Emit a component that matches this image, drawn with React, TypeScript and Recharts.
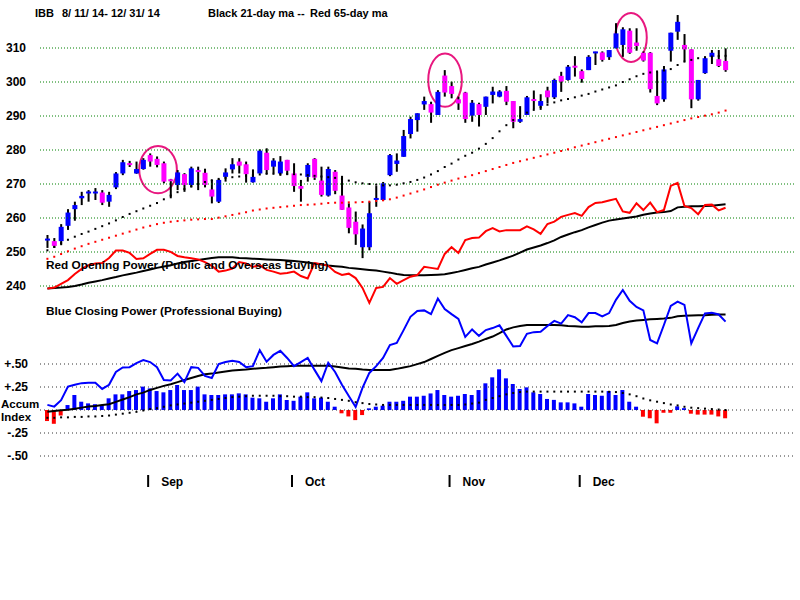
import React from "react";
import { Bar, Cell, ComposedChart, Line, ReferenceArea, ReferenceLine, XAxis, YAxis } from "recharts";

// IBB daily candles, 8/11/14 - 12/31/14 (one entry per trading day)
const open = [
  253.4, 253.2, 253.2, 257.7, 262.6, 265.8, 267.3, 267.3, 267.5, 264.8,
  269.0, 273.1, 276.1, 273.1, 274.4, 278.5, 277.4, 276.1, 271.3, 269.7,
  272.9, 269.7, 274.0, 273.3, 268.4, 264.8, 272.1, 274.3, 276.6, 275.8,
  270.5, 273.1, 279.2, 275.1, 273.1, 277.1, 273.1, 269.4, 272.1, 277.4,
  271.0, 266.6, 273.6, 266.6, 263.1, 258.9, 251.4, 251.4, 265.4, 265.3,
  272.6, 275.9, 278.0, 284.7, 288.8, 293.4, 293.5, 290.3, 301.9, 298.8,
  294.9, 296.9, 290.1, 293.5, 292.7, 296.2, 295.7, 297.4, 294.4, 288.3,
  290.3, 294.9, 293.0, 297.5, 295.5, 301.8, 300.6, 304.7, 303.2, 303.5,
  308.5, 308.7, 307.3, 309.9, 310.9, 315.1, 311.6, 308.6, 308.6, 295.9,
  294.9, 309.2, 314.8, 310.9, 309.6, 294.9, 302.6, 307.4, 306.7, 306.2,
];
const high = [
  255.0, 254.1, 258.2, 262.6, 264.8, 267.7, 268.2, 268.8, 268.2, 267.7,
  273.5, 277.1, 276.8, 276.6, 277.6, 279.0, 278.1, 276.6, 271.5, 274.1,
  273.2, 275.1, 275.1, 274.5, 271.2, 271.5, 274.6, 277.6, 277.6, 276.6,
  274.3, 280.2, 280.5, 277.6, 278.2, 277.1, 276.1, 271.2, 276.1, 277.6,
  275.1, 275.1, 274.1, 272.4, 264.3, 261.9, 258.1, 264.8, 269.4, 270.6,
  278.8, 279.0, 285.9, 289.8, 290.8, 295.7, 294.2, 297.6, 303.5, 300.1,
  295.7, 297.1, 294.7, 293.9, 295.7, 298.6, 297.6, 298.8, 294.4, 292.9,
  295.9, 297.5, 296.4, 298.6, 301.0, 303.0, 305.0, 307.6, 303.7, 307.9,
  308.9, 309.0, 309.4, 317.3, 316.1, 315.8, 315.8, 309.0, 308.8, 303.0,
  304.7, 314.5, 319.7, 314.1, 309.6, 300.6, 307.4, 309.4, 309.4, 309.9,
];
const low = [
  251.2, 251.2, 252.0, 256.5, 259.2, 263.8, 264.8, 265.3, 263.8, 263.3,
  268.5, 272.6, 275.0, 273.0, 274.2, 275.1, 274.9, 270.2, 265.8, 268.2,
  267.7, 269.0, 268.2, 269.0, 264.3, 264.4, 270.7, 273.1, 273.1, 270.4,
  270.4, 273.1, 272.9, 273.1, 272.4, 272.6, 267.7, 264.8, 270.7, 271.2,
  266.3, 266.3, 267.0, 262.4, 255.5, 252.1, 248.2, 250.5, 263.3, 265.0,
  272.3, 273.6, 278.0, 283.4, 285.4, 291.8, 288.0, 290.3, 295.7, 295.2,
  291.8, 288.0, 288.3, 286.9, 290.3, 293.7, 295.5, 293.2, 286.4, 288.0,
  290.3, 292.0, 291.8, 293.7, 295.0, 297.1, 300.4, 301.6, 299.8, 303.5,
  305.0, 306.0, 306.5, 309.9, 307.4, 308.3, 309.2, 306.0, 296.9, 293.2,
  294.2, 306.0, 312.4, 306.0, 292.3, 294.5, 302.4, 305.3, 304.4, 303.0,
];
const close = [
  253.9, 251.8, 257.4, 261.6, 263.8, 266.5, 267.7, 267.7, 264.5, 266.8,
  273.1, 276.4, 275.6, 274.4, 277.1, 276.6, 275.6, 270.7, 270.9, 273.4,
  269.7, 274.6, 273.6, 269.7, 266.3, 271.2, 273.4, 275.8, 275.4, 272.9,
  272.1, 279.8, 274.1, 276.9, 276.6, 273.9, 269.4, 268.6, 275.6, 271.9,
  266.8, 274.4, 268.0, 262.4, 257.1, 255.2, 256.9, 261.4, 265.8, 270.2,
  278.5, 276.9, 284.1, 289.1, 290.8, 294.4, 291.0, 297.1, 296.9, 296.5,
  293.7, 289.1, 293.9, 290.3, 295.7, 297.2, 297.2, 294.2, 288.3, 289.1,
  295.5, 294.5, 294.4, 295.5, 300.6, 300.1, 304.5, 304.3, 300.9, 307.4,
  308.9, 306.5, 309.4, 314.3, 315.5, 308.6, 310.6, 306.3, 297.9, 293.7,
  303.7, 314.5, 317.7, 309.6, 294.9, 300.6, 307.0, 308.6, 304.7, 303.5,
];

// moving averages
const ma21 = [
  250.5, 251.5, 252.6, 253.6, 254.5, 255.3, 256.0, 256.8, 257.6, 258.4,
  259.3, 260.3, 261.2, 262.0, 262.8, 263.6, 264.4, 265.5, 266.6, 267.6,
  268.5, 269.3, 270.0, 270.6, 271.1, 271.5, 271.8, 272.0, 272.2, 272.4,
  272.6, 272.8, 273.0, 273.0, 273.0, 273.0, 272.9, 272.8, 272.6, 272.4,
  272.2, 272.0, 271.8, 271.5, 271.0, 270.5, 270.2, 270.0, 269.8, 269.6,
  269.6, 269.8, 270.2, 270.6, 271.2, 271.9, 272.8, 273.8, 275.0, 276.0,
  277.2, 278.3, 279.2, 280.4, 281.8, 283.5, 285.5, 287.3, 288.8, 290.0,
  291.0, 291.8, 292.6, 293.3, 294.0, 294.6, 295.0, 295.5, 296.0, 296.5,
  297.2, 297.8, 298.4, 299.0, 300.0, 300.8, 301.7, 302.4, 302.8, 303.1,
  303.4, 303.8, 305.0, 306.0, 306.5, 307.0, 307.3, 307.5, 307.6, 307.7,
];
const ma65 = [
  248.0, 248.6, 249.4, 250.2, 251.0, 251.7, 252.4, 253.0, 253.6, 254.2,
  254.8, 255.4, 256.0, 256.6, 257.2, 257.7, 258.2, 258.6, 258.9, 259.1,
  259.3, 259.5, 259.6, 259.7, 259.7, 260.1, 260.5, 260.9, 261.3, 261.7,
  262.2, 262.5, 262.8, 263.0, 263.2, 263.4, 263.6, 263.8, 263.9, 264.0,
  264.2, 264.4, 264.5, 264.5, 264.6, 264.6, 264.7, 264.8, 265.0, 265.2,
  265.5, 266.0, 266.6, 267.2, 267.8, 268.4, 269.1, 269.8, 270.4, 271.0,
  271.6, 272.1, 272.6, 273.2, 273.8, 274.4, 275.0, 275.6, 276.2, 276.7,
  277.2, 277.7, 278.2, 278.7, 279.2, 279.7, 280.2, 280.8, 281.3, 281.8,
  282.3, 282.8, 283.3, 283.8, 284.3, 284.8, 285.3, 285.8, 286.3, 286.8,
  287.3, 287.8, 288.3, 288.8, 289.3, 289.7, 290.1, 290.5, 291.0, 291.6,
];

// Opening Power (red) and Closing Power (blue), arbitrary units, with their black MAs
const openingPower = [
  35.7, 36.0, 37.1, 38.2, 40.0, 41.5, 42.6, 43.1, 43.2, 44.7,
  46.9, 46.9, 46.2, 44.4, 44.6, 45.9, 47.1, 47.1, 46.5, 45.3,
  44.9, 44.6, 44.3, 43.5, 42.4, 40.7, 41.0, 41.6, 43.5, 43.1,
  42.1, 42.6, 41.2, 40.7, 40.1, 40.3, 40.7, 39.4, 38.7, 43.2,
  42.9, 42.4, 40.6, 39.7, 40.1, 38.8, 35.9, 31.5, 35.9, 36.2,
  38.8, 37.1, 38.2, 39.2, 39.7, 42.1, 41.8, 41.5, 45.9, 47.9,
  46.2, 50.0, 50.6, 50.7, 52.6, 53.5, 52.5, 52.9, 52.9, 52.9,
  54.0, 53.1, 51.8, 54.7, 55.4, 56.8, 57.4, 57.9, 57.1, 59.7,
  60.9, 61.1, 61.6, 62.1, 58.4, 58.0, 60.8, 58.8, 61.0, 58.2,
  58.8, 65.9, 66.8, 60.0, 59.4, 57.6, 60.3, 60.4, 58.7, 59.5,
];
const openingPowerMa = [
  35.7, 35.9, 36.0, 36.2, 36.5, 36.9, 37.4, 37.8, 38.2, 38.7,
  39.1, 39.6, 40.0, 40.4, 40.9, 41.3, 41.8, 42.2, 42.6, 43.1,
  43.5, 43.8, 44.1, 44.4, 44.7, 44.9, 44.9, 44.9, 44.7, 44.6,
  44.5, 44.4, 44.3, 44.2, 44.1, 44.0, 43.8, 43.6, 43.4, 43.1,
  42.8, 42.5, 42.3, 42.1, 41.8, 41.6, 41.4, 41.2, 41.0, 40.7,
  40.4, 40.0, 39.7, 39.6, 39.6, 39.6, 39.7, 39.8, 39.9, 40.3,
  40.7, 41.2, 41.7, 42.1, 42.8, 43.4, 44.0, 44.7, 45.4, 46.3,
  47.2, 47.8, 48.4, 49.1, 49.9, 50.9, 51.6, 52.3, 52.9, 53.7,
  54.4, 55.1, 55.7, 56.0, 56.3, 56.6, 56.9, 57.4, 57.8, 58.1,
  58.2, 58.5, 59.6, 59.8, 59.9, 59.9, 60.0, 60.1, 60.3, 60.5,
];
const closingPower = [
  1.5, 1.0, 2.9, 6.9, 7.4, 7.9, 8.0, 8.0, 6.2, 7.4,
  11.2, 12.5, 12.6, 13.8, 14.7, 14.1, 12.6, 8.8, 8.7, 10.7,
  8.2, 12.6, 12.4, 10.0, 9.4, 13.5, 14.1, 14.5, 14.1, 12.6,
  12.9, 17.6, 14.2, 16.2, 17.4, 15.3, 12.9, 14.1, 15.3, 11.8,
  8.5, 13.9, 11.2, 7.4, 4.1, 0.9, 6.5, 10.9, 12.9, 15.3,
  19.1, 19.7, 23.5, 27.4, 29.1, 29.3, 28.2, 32.8, 29.7, 28.2,
  26.8, 21.5, 23.7, 21.8, 23.5, 24.1, 24.9, 21.8, 18.7, 18.8,
  22.4, 22.9, 23.0, 24.7, 26.2, 25.4, 27.9, 27.3, 25.8, 28.5,
  28.5, 27.5, 28.5, 32.4, 35.3, 32.1, 30.3, 29.3, 20.6, 19.6,
  25.0, 30.6, 31.9, 30.9, 19.6, 24.1, 28.4, 28.6, 28.1, 26.0,
];
const closingPowerMa = [
  -0.5, -0.3, -0.1, 0.1, 0.4, 0.7, 1.0, 1.2, 1.5, 1.7,
  2.4, 3.1, 3.8, 4.6, 5.1, 5.9, 6.5, 7.1, 7.6, 8.2,
  8.8, 9.4, 10.0, 10.5, 10.7, 11.0, 11.3, 11.6, 11.8, 11.9,
  12.1, 12.3, 12.4, 12.6, 12.8, 12.9, 13.0, 13.0, 13.0, 13.0,
  13.0, 13.0, 12.8, 12.5, 12.2, 12.1, 11.9, 11.8, 11.8, 11.8,
  11.8, 12.1, 12.5, 12.9, 13.5, 14.1, 15.0, 15.9, 16.8, 17.6,
  18.2, 18.8, 19.4, 20.1, 20.9, 21.6, 22.6, 23.7, 24.3, 24.7,
  25.0, 25.0, 25.0, 25.0, 25.0, 24.9, 24.7, 24.6, 24.5, 24.5,
  24.6, 24.6, 24.7, 25.0, 25.6, 26.0, 26.3, 26.5, 26.7, 26.8,
  26.9, 27.1, 27.6, 27.7, 27.8, 27.9, 27.9, 28.0, 28.1, 28.1,
];

// Accumulation index bars and their dotted MA
const accum = [
  -0.12, -0.15, -0.06, 0.054, 0.163, 0.09, 0.072, 0.063, 0.054, 0.127,
  0.17, 0.17, 0.206, 0.217, 0.254, 0.235, 0.206, 0.192, 0.217, 0.272,
  0.217, 0.217, 0.254, 0.17, 0.163, 0.163, 0.17, 0.17, 0.181, 0.17,
  0.134, 0.127, 0.09, 0.127, 0.17, 0.109, 0.1, 0.145, 0.192, 0.127,
  0.134, 0.09, 0.036, -0.036, -0.07, -0.11, -0.055, 0.018, 0.036, 0.047,
  0.09, 0.09, 0.1, 0.145, 0.145, 0.155, 0.18, 0.217, 0.163, 0.145,
  0.155, 0.174, 0.163, 0.217, 0.29, 0.355, 0.442, 0.344, 0.283, 0.228,
  0.246, 0.192, 0.174, 0.12, 0.11, 0.083, 0.083, 0.072, 0.036, 0.174,
  0.163, 0.155, 0.206, 0.163, 0.217, 0.09, 0.036, -0.073, -0.09, -0.145,
  -0.03, -0.03, 0.04, 0.02, -0.04, -0.05, -0.05, -0.05, -0.07, -0.09,
];
const accumMa = [
  -0.085, -0.085, -0.08, -0.08, -0.075, -0.075, -0.07, -0.07, -0.065, -0.06,
  -0.05, -0.04, -0.03, -0.02, -0.005, 0.01, 0.02, 0.035, 0.05, 0.06,
  0.07, 0.08, 0.09, 0.1, 0.11, 0.12, 0.13, 0.14, 0.145, 0.15,
  0.155, 0.155, 0.155, 0.155, 0.15, 0.15, 0.145, 0.145, 0.14, 0.14,
  0.135, 0.13, 0.12, 0.11, 0.1, 0.085, 0.075, 0.065, 0.06, 0.055,
  0.055, 0.055, 0.055, 0.055, 0.055, 0.055, 0.055, 0.055, 0.055, 0.055,
  0.055, 0.06, 0.07, 0.08, 0.11, 0.13, 0.15, 0.17, 0.185, 0.195,
  0.2, 0.2, 0.2, 0.2, 0.2, 0.2, 0.2, 0.2, 0.2, 0.2,
  0.2, 0.2, 0.198, 0.195, 0.185, 0.17, 0.15, 0.125, 0.105, 0.09,
  0.075, 0.06, 0.05, 0.035, 0.025, 0.02, 0.015, 0.01, 0.005, 0.0,
];

const monthStarts = [15, 36, 59, 78];
const monthNames = ["Sep", "Oct", "Nov", "Dec"];
const priceGrid = [310, 300, 290, 280, 270, 260, 250, 240];
const accumGrid = [0.5, 0.25, 0, -0.25, -0.5];
const accumGridLabels = ["+.50", "+.25", "", "-.25", "-.50"];

// circled spots: day range and price range
const highlights = [
  { from: 13.4, to: 18.9, low: 267.3, high: 281.2 },
  { from: 55.6, to: 60.5, low: 292.7, high: 308.4 },
  { from: 82.9, to: 87.5, low: 305.9, high: 320.3 },
];

// layout
const TOP = 4;
const BOTTOM = 466;
const LEFT = 40;
const RIGHT = 796;
const DAY_PX = 6.85;
const DAY0_X = 47.4;
const PT_PX = 3.4;
const REF_PRICE = 310;
const REF_PRICE_Y = 48;
const ZERO_Y = 410;
const ACC_PX = 92;

const xDomain = [(LEFT - DAY0_X) / DAY_PX, (RIGHT - DAY0_X) / DAY_PX];
const priceDomain = [REF_PRICE - (BOTTOM - REF_PRICE_Y) / PT_PX, REF_PRICE + (REF_PRICE_Y - TOP) / PT_PX];
const powDomain = [-(BOTTOM - ZERO_Y) / PT_PX, (ZERO_Y - TOP) / PT_PX];
const accDomain = [-(BOTTOM - ZERO_Y) / ACC_PX, (ZERO_Y - TOP) / ACC_PX];

const BLUE = "#0000ff";
const MAGENTA = "#ff00ff";
const RED = "#ff0000";
const PINK = "#e8177f";
const FONT = '"Liberation Sans", Arial, sans-serif';

const data = close.map((c, i) => ({
  i,
  open: open[i],
  high: high[i],
  low: low[i],
  close: c,
  range: [low[i], high[i]],
  ma21: ma21[i],
  ma65: ma65[i],
  op: openingPower[i],
  opMa: openingPowerMa[i],
  cp: closingPower[i],
  cpMa: closingPowerMa[i],
  accum: accum[i],
  accumMa: accumMa[i],
}));

const Candle = (props: any) => {
  const { x, y, width, height, payload } = props;
  if (x == null || payload == null) return null;
  const cx = x + width / 2;
  const top = Math.min(y, y + height);
  const bot = Math.max(y, y + height);
  const span = payload.high - payload.low;
  const toY = (v: number) => (span > 0 ? top + ((payload.high - v) / span) * (bot - top) : top);
  const up = payload.close >= payload.open;
  const bTop = toY(Math.max(payload.open, payload.close));
  const bBot = toY(Math.min(payload.open, payload.close));
  const bh = Math.max(bBot - bTop, 2);
  const mid = (bTop + bBot) / 2;
  return (
    <g>
      <rect x={cx - 1} y={top} width={2} height={Math.max(bot - top, 1)} fill="#000" />
      <rect x={cx - 2.5} y={mid - bh / 2} width={5} height={bh} fill={up ? BLUE : MAGENTA} />
    </g>
  );
};

const squareDot = (color: string) => (p: any) => {
  if (p.cx == null || p.cy == null) return <g key={`${color}-${p.index}`} />;
  return <rect key={`${color}-${p.index}`} x={p.cx - 1} y={p.cy - 1} width={2} height={2} fill={color} />;
};

const MonthTick = (props: any) => {
  const { x, y, payload } = props;
  const name = monthNames[monthStarts.indexOf(payload.value)];
  return (
    <g>
      <rect x={x - 3} y={y - 29} width={2} height={12} fill="#000" />
      <text x={x + 11} y={y - 18} fontSize={12} fontWeight="bold" fill="#000" fontFamily={FONT}>
        {name}
      </text>
    </g>
  );
};

const AccumLabel = (props: any) => {
  const { viewBox } = props;
  if (!viewBox) return null;
  return (
    <g>
      <text x={viewBox.x - 39} y={viewBox.y - 2} fontSize={11.5} fontWeight="bold" fill="#000" fontFamily={FONT}>
        Accum
      </text>
      <text x={viewBox.x - 39} y={viewBox.y + 11} fontSize={11.5} fontWeight="bold" fill="#000" fontFamily={FONT}>
        Index
      </text>
    </g>
  );
};

const Ellipse = (p: any) => (
  <ellipse
    cx={p.x + p.width / 2}
    cy={p.y + p.height / 2}
    rx={Math.abs(p.width) / 2}
    ry={Math.abs(p.height) / 2}
    fill="none"
    stroke={PINK}
    strokeWidth={2}
  />
);

const textStyle: React.CSSProperties = {
  position: "absolute",
  fontFamily: FONT,
  fontWeight: "bold",
  fontSize: 11.8,
  lineHeight: "14px",
  color: "#000",
  whiteSpace: "pre",
};

export default function App() {
  return (
    <div style={{ position: "absolute", left: 0, top: 0, width: 800, height: 600, background: "#fff", fontFamily: FONT }}>
      <ComposedChart
        width={800}
        height={600}
        data={data}
        margin={{ top: TOP, right: 800 - RIGHT, bottom: 600 - BOTTOM - 30, left: LEFT }}
      >
        <XAxis
          xAxisId="px"
          dataKey="i"
          type="number"
          domain={xDomain}
          allowDataOverflow
          ticks={monthStarts}
          interval={0}
          axisLine={false}
          tickLine={false}
          height={30}
          tick={<MonthTick />}
        />
        <XAxis xAxisId="ax" dataKey="i" type="number" domain={xDomain} allowDataOverflow hide />
        <YAxis yAxisId="price" type="number" domain={priceDomain} allowDataOverflow hide />
        <YAxis yAxisId="pow" type="number" domain={powDomain} allowDataOverflow hide />
        <YAxis yAxisId="acc" type="number" domain={accDomain} allowDataOverflow hide />

        {priceGrid.map((v) => (
          <ReferenceLine
            key={`pg${v}`}
            xAxisId="px"
            yAxisId="price"
            y={v}
            stroke="#008000"
            strokeDasharray="1 2"
            label={{ value: String(v), position: "left", offset: 14, fill: "#000", fontSize: 12, fontWeight: "bold", fontFamily: FONT }}
          />
        ))}
        {accumGrid.map((v, k) => (
          <ReferenceLine
            key={`ag${v}`}
            xAxisId="px"
            yAxisId="acc"
            y={v}
            stroke="#333"
            strokeDasharray="1 3"
            label={
              v === 0
                ? <AccumLabel />
                : { value: accumGridLabels[k], position: "left", offset: 12, fill: "#000", fontSize: 12, fontWeight: "bold", fontFamily: FONT }
            }
          />
        ))}

        <Line xAxisId="px" yAxisId="pow" dataKey="opMa" stroke="#000" strokeWidth={2} dot={false} activeDot={false} isAnimationActive={false} />
        <Line xAxisId="px" yAxisId="pow" dataKey="op" stroke={RED} strokeWidth={2} dot={false} activeDot={false} isAnimationActive={false} />
        <Bar xAxisId="ax" yAxisId="acc" dataKey="accum" barSize={4} isAnimationActive={false}>
          {accum.map((v, k) => (
            <Cell key={`c${k}`} fill={v >= 0 ? BLUE : RED} />
          ))}
        </Bar>
        <Line xAxisId="px" yAxisId="acc" dataKey="accumMa" stroke="none" dot={squareDot("#000")} activeDot={false} isAnimationActive={false} />
        <Line xAxisId="px" yAxisId="pow" dataKey="cpMa" stroke="#000" strokeWidth={2} dot={false} activeDot={false} isAnimationActive={false} />
        <Line xAxisId="px" yAxisId="pow" dataKey="cp" stroke={BLUE} strokeWidth={2} dot={false} activeDot={false} isAnimationActive={false} />

        <Line xAxisId="px" yAxisId="price" dataKey="ma65" stroke="none" dot={squareDot(RED)} activeDot={false} isAnimationActive={false} />
        <Line xAxisId="px" yAxisId="price" dataKey="ma21" stroke="none" dot={squareDot("#000")} activeDot={false} isAnimationActive={false} />
        <Bar xAxisId="px" yAxisId="price" dataKey="range" barSize={5} shape={Candle} isAnimationActive={false} />

        {highlights.map((h, k) => (
          <ReferenceArea
            key={`h${k}`}
            xAxisId="px"
            yAxisId="price"
            x1={h.from}
            x2={h.to}
            y1={h.low}
            y2={h.high}
            ifOverflow="visible"
            shape={Ellipse}
          />
        ))}
      </ComposedChart>

      <div style={{ ...textStyle, fontSize: 11, left: 35, top: 6 }}>IBB</div>
      <div style={{ ...textStyle, fontSize: 11, left: 62, top: 6 }}>8/ 11/ 14- 12/ 31/ 14</div>
      <div style={{ ...textStyle, fontSize: 11, left: 208, top: 6 }}>Black 21-day ma --</div>
      <div style={{ ...textStyle, fontSize: 11, left: 310, top: 6 }}>Red 65-day ma</div>
      <div style={{ ...textStyle, left: 46, top: 258 }}>Red Opening Power (Public and Overseas Buying)</div>
      <div style={{ ...textStyle, left: 46, top: 304 }}>Blue Closing Power (Professional Buying)</div>
    </div>
  );
}
